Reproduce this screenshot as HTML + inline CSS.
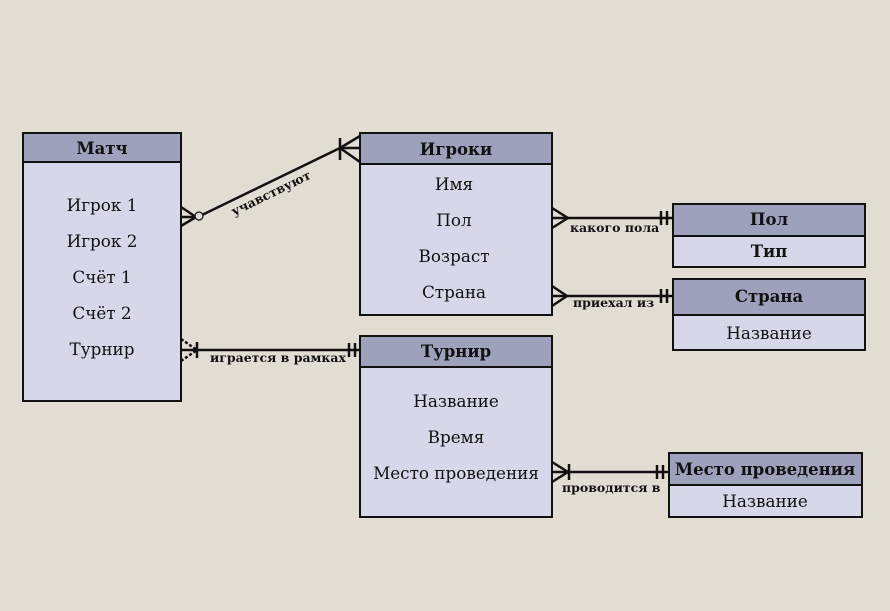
<!DOCTYPE html>
<html><head><meta charset="utf-8"><style>body{margin:0;background:#e2ddd3}</style></head><body>
<svg width="890" height="606" xmlns="http://www.w3.org/2000/svg" font-family="'DejaVu Serif',serif">
<rect width="890" height="606" fill="#e2ddd3"/>
<g stroke="#111" stroke-width="2">
<rect x="23" y="133" width="158" height="268" fill="#d6d7e8"/><rect x="23" y="133" width="158" height="29" fill="#9ea1bb"/>
<rect x="360" y="133" width="192" height="182" fill="#d6d7e8"/><rect x="360" y="133" width="192" height="31" fill="#9ea1bb"/>
<rect x="673" y="204" width="192" height="63" fill="#d6d7e8"/><rect x="673" y="204" width="192" height="32" fill="#9ea1bb"/>
<rect x="673" y="279" width="192" height="71" fill="#d6d7e8"/><rect x="673" y="279" width="192" height="36" fill="#9ea1bb"/>
<rect x="360" y="336" width="192" height="181" fill="#d6d7e8"/><rect x="360" y="336" width="192" height="31" fill="#9ea1bb"/>
<rect x="669" y="453" width="193" height="64" fill="#d6d7e8"/><rect x="669" y="453" width="193" height="32" fill="#9ea1bb"/>
</g>
<g stroke="#111" stroke-width="2.5" fill="none">
<line x1="202" y1="215" x2="340" y2="148"/>
<line x1="340" y1="148" x2="360" y2="148"/><line x1="340" y1="148" x2="360" y2="136"/><line x1="340" y1="148" x2="360" y2="162"/><line x1="340" y1="138" x2="340" y2="160"/>
<line x1="181" y1="207" x2="196" y2="217"/><line x1="181" y1="226" x2="196" y2="217"/><line x1="181" y1="217" x2="195" y2="217"/>
<circle cx="199" cy="216" r="4" fill="#e2ddd3" stroke-width="1.2"/>
<line x1="552" y1="218" x2="673" y2="218"/><line x1="552" y1="208" x2="568" y2="218"/><line x1="552" y1="228" x2="568" y2="218"/><line x1="661" y1="211" x2="661" y2="225"/><line x1="667" y1="211" x2="667" y2="225"/>
<line x1="552" y1="296" x2="673" y2="296"/><line x1="552" y1="286" x2="567" y2="296"/><line x1="552" y1="306" x2="567" y2="296"/><line x1="661" y1="289" x2="661" y2="303"/><line x1="667" y1="289" x2="667" y2="303"/>
<line x1="181" y1="350" x2="360" y2="350"/><line x1="181" y1="339" x2="197" y2="350" stroke-dasharray="3 2"/><line x1="181" y1="361" x2="197" y2="350" stroke-dasharray="3 2"/><line x1="197" y1="342" x2="197" y2="358"/><line x1="349" y1="343" x2="349" y2="357"/><line x1="355" y1="343" x2="355" y2="357"/>
<line x1="552" y1="472" x2="669" y2="472"/><line x1="552" y1="462" x2="568" y2="472"/><line x1="552" y1="482" x2="568" y2="472"/><line x1="569" y1="464" x2="569" y2="480"/><line x1="657" y1="465" x2="657" y2="479"/><line x1="663" y1="465" x2="663" y2="479"/>
</g>
<g font-weight="bold" font-size="16.5" text-anchor="middle" fill="#111">
<text x="102" y="154">Матч</text><text x="456" y="155">Игроки</text><text x="769" y="225">Пол</text><text x="769" y="257">Тип</text>
<text x="769" y="302">Страна</text><text x="456" y="357">Турнир</text><text x="765" y="475">Место проведения</text>
</g>
<g font-size="16.8" text-anchor="middle" fill="#111">
<text x="102" y="211">Игрок 1</text><text x="102" y="247">Игрок 2</text><text x="102" y="283">Счёт 1</text><text x="102" y="319">Счёт 2</text><text x="102" y="355">Турнир</text>
<text x="454" y="190">Имя</text><text x="454" y="226">Пол</text><text x="454" y="262">Возраст</text><text x="454" y="298">Страна</text>
<text x="769" y="339">Название</text><text x="456" y="407">Название</text><text x="456" y="443">Время</text><text x="456" y="479">Место проведения</text>
<text x="765" y="507">Название</text>
</g>
<g font-weight="bold" font-size="12.5" fill="#111">
<text x="234" y="216" transform="rotate(-26 234 216)">учавствуют</text>
<text x="570" y="232">какого пола</text><text x="573" y="307">приехал из</text>
<text x="210" y="362">играется в рамках</text><text x="562" y="492">проводится в</text>
</g>
</svg>
</body></html>
